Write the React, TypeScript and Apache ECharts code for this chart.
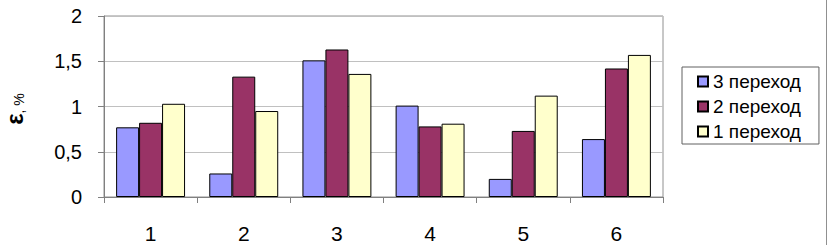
import React, { useEffect, useRef } from "react";
import * as echarts from "echarts";

const categories = ["1", "2", "3", "4", "5", "6"];
const seriesNames = ["3 переход", "2 переход", "1 переход"];
const values3 = [0.77, 0.26, 1.51, 1.01, 0.2, 0.64];
const values2 = [0.82, 1.33, 1.63, 0.78, 0.73, 1.42];
const values1 = [1.03, 0.95, 1.36, 0.81, 1.12, 1.57];
const colors = ["#9999FF", "#993366", "#FFFFCC"];

export default function App() {
  const ref = useRef<HTMLDivElement>(null);
  useEffect(() => {
    if (!ref.current) return;
    const chart = echarts.init(ref.current, null, { renderer: "svg" });
    const font = "Arial, 'Liberation Sans', sans-serif";
    const data = [values3, values2, values1];
    chart.setOption({
      animation: false,
      textStyle: { fontFamily: font },
      grid: {
        left: 104,
        top: 16,
        right: 165,
        bottom: 48,
        show: true,
        borderColor: "#909090",
        borderWidth: 1,
        backgroundColor: "transparent",
      },
      legend: {
        orient: "vertical",
        left: 682,
        top: 67,
        padding: [5, 18, 3, 15],
        itemGap: 6,
        itemWidth: 10,
        itemHeight: 10,
        icon: "rect",
        borderColor: "#606060",
        borderWidth: 1,
        textStyle: { fontSize: 19, lineHeight: 19, color: "#000", fontFamily: font },
        data: seriesNames,
      },
      xAxis: {
        type: "category",
        data: categories,
        axisLine: { lineStyle: { color: "#808080", width: 1 } },
        axisTick: { show: true, length: 6, lineStyle: { color: "#808080" } },
        axisLabel: { fontSize: 21, color: "#000", margin: 26, fontFamily: font },
      },
      yAxis: {
        type: "value",
        min: 0,
        max: 2,
        interval: 0.5,
        axisLine: { show: true, lineStyle: { color: "#808080", width: 1 } },
        axisTick: { show: true, length: 6, lineStyle: { color: "#808080" } },
        splitLine: { lineStyle: { color: "#c0c0c0", width: 1 } },
        axisLabel: {
          fontSize: 20,
          color: "#000",
          margin: 22,
          fontFamily: font,
          formatter: (v: number) => String(v).replace(".", ","),
        },
      },
      series: seriesNames.map((name, i) => ({
        name,
        type: "bar",
        data: data[i],
        barGap: "0%",
        barCategoryGap: "26%",
        itemStyle: { color: colors[i], borderColor: "#000", borderWidth: 1 },
      })),
      graphic: [
        {
          type: "text",
          x: 14,
          y: 109,
          rotation: Math.PI / 2,
          style: {
            text: "{e|ε}{p|, %}",
            align: "center",
            verticalAlign: "middle",
            rich: {
              e: { fontSize: 24, lineHeight: 24, fontWeight: "bold", fontFamily: font, fill: "#000" },
              p: { fontSize: 14, lineHeight: 14, fontFamily: font, fill: "#000", verticalAlign: "bottom" },
            },
          },
        },
        {
          type: "line",
          shape: { x1: 826.5, y1: 0, x2: 826.5, y2: 245 },
          style: { stroke: "#909090", lineWidth: 1 },
        },
      ],
    });
    return () => chart.dispose();
  }, []);
  return <div ref={ref} style={{ width: 828, height: 245, position: "absolute", left: 0, top: 0 }} />;
}
